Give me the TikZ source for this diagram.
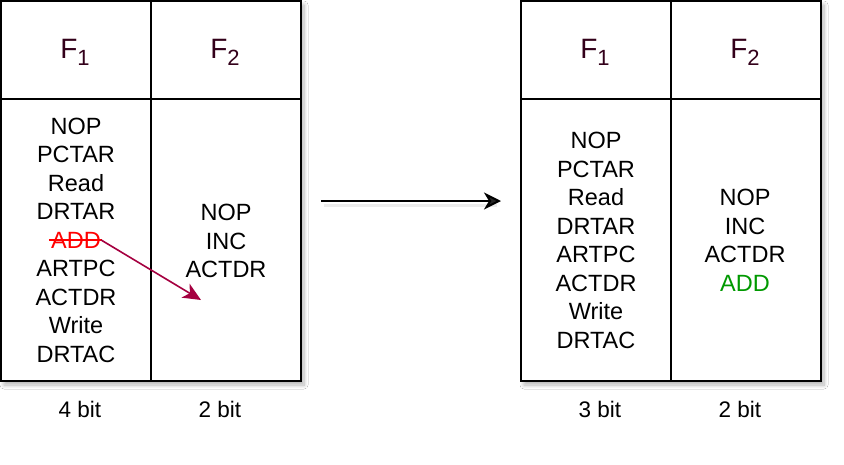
\documentclass[tikz,border=0pt]{standalone}
\usepackage{fontspec}
\setmainfont{Liberation Sans}
\usetikzlibrary{arrows.meta,shadows.blur}
\definecolor{hdr}{HTML}{33001A}
\definecolor{redadd}{HTML}{FF0000}
\definecolor{greenadd}{HTML}{009900}
\definecolor{crimson}{HTML}{A50040}
\newcommand{\Fsub}[1]{F\raisebox{-7pt}{\fontsize{22}{22}\selectfont #1}}
\begin{document}
\begin{tikzpicture}[x=1pt,y=-1pt,
  tbl/.style={line width=2pt, draw=black, fill=white,
    blur shadow={shadow xshift=3pt, shadow yshift=-4pt, shadow blur steps=8,
      shadow blur radius=4pt, shadow opacity=30}},
  grid/.style={line width=2pt, draw=black},
  item/.style={anchor=base, inner sep=0pt, font=\fontsize{23.5}{28.5}\selectfont},
  head/.style={anchor=base, inner sep=0pt, text=hdr, font=\fontsize{28}{30}\selectfont},
  bits/.style={anchor=base, inner sep=0pt, font=\fontsize{22.5}{25}\selectfont},
  flow/.style={line width=2pt, -{Stealth[length=17pt,width=17pt,inset=5pt]}},
  move/.style={line width=1.6pt, draw=crimson, -{Stealth[length=18pt,width=16pt,inset=5pt]}}
]
\useasboundingbox[fill=white] (0,0) rectangle (844,464);

% left table
\path[tbl] (1,1) rectangle (301,381);
\draw[grid] (151,1) -- (151,381);
\draw[grid] (1,99) -- (301,99);
% right table
\path[tbl] (521,1) rectangle (821,381);
\draw[grid] (671,1) -- (671,381);
\draw[grid] (521,99) -- (821,99);

% headers
\node[head] (h1) at (75,58) {\Fsub{1}};
\node[head] (h2) at (225,58) {\Fsub{2}};
\node[head] (h3) at (595,58) {\Fsub{1}};
\node[head] (h4) at (745,58) {\Fsub{2}};

% left F1 column
\foreach \t [count=\k from 0] in {NOP,PCTAR,Read,DRTAR}
  \node[item] (a\k) at (76,134+28.5*\k) {\t};
\node[item, text=redadd] (add) at (76,248) {ADD};
\draw[redadd, line width=1.6pt] ([xshift=-2pt]add.west) -- ([xshift=1pt]add.east);
\foreach \t [count=\k from 5] in {ARTPC,ACTDR,Write,DRTAC}
  \node[item] (a\k) at (76,134+28.5*\k) {\t};

% left F2 column
\foreach \t [count=\k from 0] in {NOP,INC,ACTDR}
  \node[item] (b\k) at (226,220.5+28.5*\k) {\t};

% right F1 column
\foreach \t [count=\k from 0] in {NOP,PCTAR,Read,DRTAR,ARTPC,ACTDR,Write,DRTAC}
  \node[item] (c\k) at (596,148.5+28.5*\k) {\t};

% right F2 column
\foreach \t [count=\k from 0] in {NOP,INC,ACTDR}
  \node[item] (d\k) at (745,205.5+28.5*\k) {\t};
\node[item, text=greenadd] (addnew) at (745,291) {ADD};

% bit labels
\node[bits] (w1) at (80,417) {4 bit};
\node[bits] (w2) at (220,417) {2 bit};
\node[bits] (w3) at (600,417) {3 bit};
\node[bits] (w4) at (740,417) {2 bit};

% arrows
\coordinate (mvend) at (201,300);
\draw[move] (add.east) -- (mvend);
\coordinate (fs) at (321,201);
\coordinate (fe) at (501,201);
\draw[black!12, line width=3pt, opacity=0.6] (324,205) -- (497,205);
\draw[flow] (fs) -- (fe);
\end{tikzpicture}
\end{document}
